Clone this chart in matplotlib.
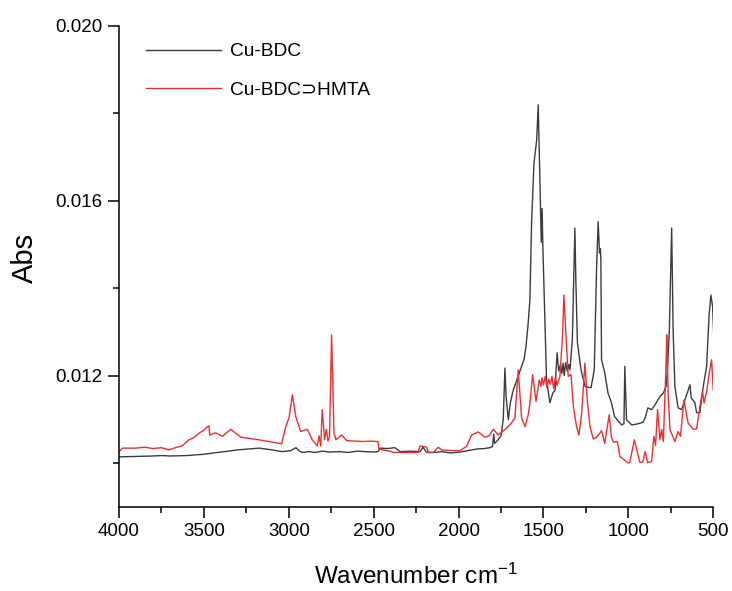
import matplotlib
matplotlib.use("Agg")
import matplotlib.pyplot as plt
import numpy as np

plt.rcParams['font.family'] = ['Liberation Sans', 'DejaVu Sans']
plt.rcParams['mathtext.fontset'] = 'custom'
plt.rcParams['mathtext.rm'] = 'Liberation Sans'
plt.rcParams['mathtext.it'] = 'Liberation Sans:italic'

# ---- data ----
bdc_wn = [4000, 3900, 3800, 3747, 3700, 3600, 3500, 3400, 3300, 3175, 3100, 3040, 2990, 2958, 2940,
          2920, 2880, 2850, 2800, 2760, 2700, 2650, 2600, 2550, 2500, 2475, 2460, 2420, 2375, 2345,
          2280, 2227, 2210, 2190, 2150, 2100, 2050, 1990, 1950, 1892, 1850, 1815, 1800, 1793, 1788,
          1770, 1750, 1737, 1727, 1720, 1707, 1695, 1678, 1649, 1629, 1615, 1603, 1590, 1580, 1570,
          1556, 1540, 1531, 1518, 1513, 1508, 1504, 1491, 1482, 1462, 1445, 1432, 1420, 1410, 1400,
          1392, 1385, 1378, 1370, 1360, 1350, 1344, 1330, 1315, 1309, 1300, 1279, 1255, 1220, 1201,
          1187, 1178, 1170, 1165, 1162, 1158, 1139, 1120, 1100, 1081, 1040, 1026, 1021, 1011, 980,
          950, 914, 900, 885, 863, 843, 814, 794, 778, 771, 759, 745, 736, 726, 707, 686, 667, 637,
          630, 608, 598, 579, 559, 539, 525, 514, 504, 496]
bdc_abs = [0.01014, 0.01015, 0.01016, 0.01017, 0.01016, 0.01017, 0.01020, 0.01025, 0.01030, 0.01034,
           0.01030, 0.01026, 0.01028, 0.01035, 0.01028, 0.01024, 0.01026, 0.01024, 0.01027, 0.01025,
           0.01026, 0.01024, 0.01027, 0.01026, 0.01025, 0.01026, 0.01034, 0.01033, 0.01035, 0.01026,
           0.01027, 0.01026, 0.01036, 0.01025, 0.01024, 0.01026, 0.01023, 0.01025, 0.01028, 0.01032,
           0.01033, 0.01035, 0.01038, 0.01066, 0.01045, 0.01052, 0.01062, 0.01100, 0.01217, 0.01150,
           0.01099, 0.01138, 0.01167, 0.01198, 0.01221, 0.01236, 0.01266, 0.01320, 0.01373, 0.01549,
           0.01685, 0.01739, 0.01819, 0.01586, 0.01505, 0.01582, 0.01500, 0.01320, 0.01190, 0.01138,
           0.01160, 0.01167, 0.01252, 0.01210, 0.01225, 0.01205, 0.01228, 0.01200, 0.01230, 0.01210,
           0.01225, 0.01213, 0.01282, 0.01537, 0.01412, 0.01275, 0.01213, 0.01175, 0.01172, 0.01213,
           0.01449, 0.01552, 0.01480, 0.01490, 0.01465, 0.01236, 0.01206, 0.01160, 0.01138, 0.01106,
           0.01087, 0.01090, 0.01221, 0.01099, 0.01087, 0.01089, 0.01093, 0.01105, 0.01126, 0.01122,
           0.01133, 0.01152, 0.01160, 0.01175, 0.01206, 0.01298, 0.01537, 0.01298, 0.01175, 0.01126,
           0.01122, 0.01144, 0.01179, 0.01149, 0.01138, 0.01115, 0.01115, 0.01175, 0.01221, 0.01335,
           0.01384, 0.01358, 0.01282]

hmta_wn = [4000, 3980, 3900, 3850, 3800, 3750, 3706, 3660, 3629, 3588, 3560, 3529, 3500, 3480, 3470,
           3466, 3431, 3392, 3342, 3283, 3176, 3100, 3042, 3018, 2999, 2979, 2959, 2930, 2891, 2862,
           2832, 2822, 2812, 2803, 2789, 2779, 2769, 2760, 2748, 2734, 2722, 2689, 2659, 2600, 2563,
           2520, 2475, 2469, 2394, 2385, 2300, 2239, 2227, 2188, 2178, 2149, 2120, 2100, 2070, 1992,
           1953, 1923, 1884, 1845, 1820, 1796, 1766, 1717, 1690, 1668, 1649, 1629, 1609, 1590, 1580,
           1564, 1544, 1525, 1515, 1508, 1500, 1490, 1480, 1470, 1460, 1450, 1440, 1430, 1420, 1410,
           1403, 1387, 1380, 1363, 1354, 1338, 1324, 1305, 1291, 1275, 1256, 1242, 1226, 1207, 1190,
           1168, 1158, 1139, 1113, 1100, 1089, 1065, 1050, 1001, 991, 965, 932, 916, 901, 887, 863,
           850, 840, 828, 814, 804, 794, 778, 774, 765, 755, 726, 707, 693, 673, 648, 618, 598, 579,
           563, 554, 539, 524, 510, 500]
hmta_abs = [0.01026, 0.01034, 0.01034, 0.01036, 0.01033, 0.01035, 0.01030, 0.01036, 0.01039, 0.01053,
            0.01058, 0.01068, 0.01075, 0.01083, 0.01085, 0.01064, 0.01069, 0.01061, 0.01077, 0.01059,
            0.01053, 0.01048, 0.01044, 0.01083, 0.01103, 0.01156, 0.01106, 0.01072, 0.01077, 0.01053,
            0.01039, 0.01062, 0.01039, 0.01122, 0.01053, 0.01077, 0.01050, 0.01060, 0.01293, 0.01069,
            0.01053, 0.01064, 0.01051, 0.01050, 0.01049, 0.01050, 0.01049, 0.01032, 0.01026, 0.01024,
            0.01024, 0.01024, 0.01039, 0.01036, 0.01024, 0.01024, 0.01036, 0.01030, 0.01029, 0.01028,
            0.01038, 0.01064, 0.01071, 0.01059, 0.01062, 0.01077, 0.01064, 0.01080, 0.01091, 0.01103,
            0.01213, 0.01103, 0.01083, 0.01110, 0.01137, 0.01202, 0.01141, 0.01190, 0.01175, 0.01195,
            0.01178, 0.01198, 0.01172, 0.01192, 0.01180, 0.01198, 0.01170, 0.01195, 0.01178, 0.01190,
            0.01198, 0.01297, 0.01384, 0.01259, 0.01198, 0.01202, 0.01129, 0.01083, 0.01064, 0.01115,
            0.01228, 0.01144, 0.01083, 0.01055, 0.01058, 0.01068, 0.01074, 0.01045, 0.01110, 0.01060,
            0.01048, 0.01049, 0.01015, 0.01000, 0.01002, 0.01053, 0.01001, 0.01002, 0.01026, 0.01001,
            0.01003, 0.01061, 0.01040, 0.01122, 0.01053, 0.01077, 0.01049, 0.01228, 0.01293, 0.01152,
            0.01076, 0.01049, 0.01072, 0.01061, 0.01144, 0.01091, 0.01077, 0.01078, 0.01129, 0.01163,
            0.01137, 0.01163, 0.01205, 0.01236, 0.01167]

series_labels = ["Cu-BDC", "Cu-BDC\u2283HMTA"]
x_ticks = [4000, 3500, 3000, 2500, 2000, 1500, 1000, 500]
y_ticks = [0.012, 0.016, 0.020]

# ---- figure ----
fig = plt.figure(figsize=(7.32, 5.91), dpi=100)
ax = fig.add_axes([0.1626, 0.1426, 0.8118, 0.8140])

ax.plot(bdc_wn, bdc_abs, color="#3c3c3c", lw=1.0, label=series_labels[0])
ax.plot(hmta_wn, hmta_abs, color="#ee2e2e", lw=1.0, label=series_labels[1])

ax.set_xlim(4000, 500)
ax.set_ylim(0.009, 0.020)
ax.set_xticks(x_ticks)
ax.set_xticks(np.arange(500, 4001, 250), minor=True)
ax.set_yticks(y_ticks)
ax.set_yticks([0.010, 0.014, 0.018], minor=True)
ax.set_yticklabels([f"{v:.3f}" for v in y_ticks])

for s in ("top", "right"):
    ax.spines[s].set_visible(False)
for s in ("left", "bottom"):
    ax.spines[s].set_linewidth(1.1)
ax.tick_params(which="major", direction="out", length=8, width=1.1, labelsize=13.5, pad=4)
ax.tick_params(which="minor", direction="out", length=4, width=1.1)

ax.set_xlabel("Wavenumber cm$^{-1}$", fontsize=17.5, labelpad=17)
ax.set_ylabel("Abs", fontsize=21)
ax.yaxis.set_label_coords(-0.135, 0.517)

leg = ax.legend(loc="upper left", bbox_to_anchor=(0.016, 1.0), frameon=False,
                fontsize=13.8, handlelength=3.9, handletextpad=0.5, labelspacing=1.1)

fig.savefig("out.png", dpi=100)
